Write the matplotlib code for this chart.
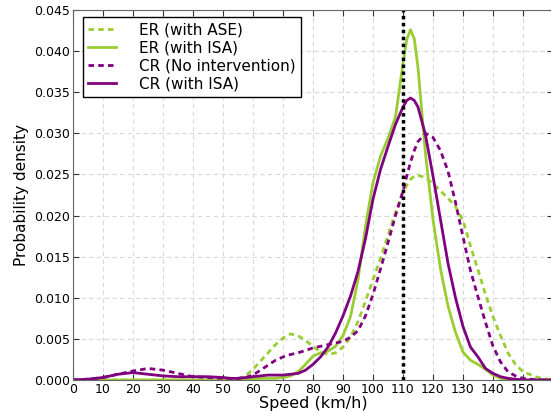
import matplotlib
matplotlib.use("Agg")
import matplotlib.pyplot as plt

# speed grid (km/h) and densities
speed = [0, 5, 10, 15, 20, 25, 30, 35, 40, 45, 50,
         52.5, 55, 57.5, 60, 62.5, 65, 67.5, 70, 72.5, 75, 77.5, 80,
         82.5, 85, 87.5, 90, 92.5, 95, 97.5, 100, 102.5, 105, 107.5, 110,
         111.25, 112.5, 113.75,
         115, 117.5, 120, 122.5, 125, 127.5, 130, 132.5, 135, 137.5, 140, 142.5, 145, 147.5, 150,
         155, 160]

er_ase = [0, 0, 0, 0, 0, 0, 0, 0, 0, 0, 0,
          0, 0.0001, 0.0005, 0.0013, 0.0023, 0.0033, 0.0043, 0.0051, 0.0056, 0.0054, 0.0048, 0.0041,
          0.0034, 0.0031, 0.0033, 0.0040, 0.0052, 0.0071, 0.0096, 0.0122, 0.0148, 0.0176, 0.0204, 0.0228,
          0.0237, 0.0244, 0.0248,
          0.0249, 0.0246, 0.0239, 0.0230, 0.0221, 0.0211, 0.0194, 0.0163, 0.0134, 0.0104, 0.0077, 0.0054,
          0.0033, 0.0019, 0.0010,
          0.0003, 0]

er_isa = [0, 0, 0, 0, 0, 0, 0, 0, 0, 0, 0,
          0, 0, 0.0001, 0.0001, 0.0002, 0.0002, 0.0002, 0.0003, 0.0005, 0.0010, 0.0019, 0.0029,
          0.0033, 0.0035, 0.0041, 0.0054, 0.0077, 0.0122, 0.0187, 0.0240, 0.0272, 0.0294, 0.0320, 0.0385,
          0.0414, 0.0426, 0.0415,
          0.0380, 0.0275, 0.0195, 0.0135, 0.0090, 0.0058, 0.0034, 0.0024, 0.0019, 0.0013, 0.0006, 0.0002,
          0.0001, 0, 0,
          0, 0]

cr_none = [0, 0.0001, 0.0003, 0.0007, 0.0011, 0.0014, 0.0012, 0.0008, 0.0004, 0.0003, 0.0002,
           0.0002, 0.0002, 0.0003, 0.0006, 0.0012, 0.0018, 0.0024, 0.0028, 0.0031, 0.0033, 0.0036, 0.0039,
           0.0041, 0.0043, 0.0045, 0.0047, 0.0052, 0.0060, 0.0078, 0.0104, 0.0135, 0.0167, 0.0200, 0.0230,
           0.0248, 0.0265, 0.0279,
           0.0290, 0.0300, 0.0295, 0.0279, 0.0254, 0.0216, 0.0174, 0.0133, 0.0101, 0.0070, 0.0041, 0.0022,
           0.0010, 0.0005, 0.0002,
           0, 0]

cr_isa = [0, 0.0001, 0.0003, 0.0007, 0.0009, 0.0007, 0.0005, 0.0004, 0.0004, 0.0004, 0.0003,
          0.0002, 0.0002, 0.0003, 0.0004, 0.0005, 0.0006, 0.0006, 0.0006, 0.0007, 0.0008, 0.0012, 0.0019,
          0.0028, 0.0040, 0.0057, 0.0078, 0.0102, 0.0132, 0.0172, 0.0220, 0.0256, 0.0284, 0.0311, 0.0332,
          0.0340, 0.0343, 0.0340,
          0.0332, 0.0298, 0.0248, 0.0195, 0.0142, 0.0100, 0.0065, 0.0040, 0.0028, 0.0014, 0.0008, 0.0004,
          0.0002, 0.0001, 0,
          0, 0]

speed_limit = 110

green = '#9acd32'
purple = '#800080'

fig = plt.figure(figsize=(5.51, 4.12), dpi=100)
ax = fig.add_axes([73 / 551, 1 - 380 / 412, 480 / 551, 370 / 412])

ax.plot(speed, er_ase, color=green, lw=2, dashes=(2, 1.5), label='ER (with ASE)')
ax.plot(speed, er_isa, color=green, lw=2, label='ER (with ISA)')
ax.plot(speed, cr_none, color=purple, lw=2, dashes=(2, 1.5), label='CR (No intervention)')
ax.plot(speed, cr_isa, color=purple, lw=2, label='CR (with ISA)')
ax.axvline(speed_limit, color='black', lw=2.5, ls=(0, (1, 1)))

ax.set_xlim(0, 160)
ax.set_ylim(0, 0.045)
ax.set_xticks(range(0, 151, 10))
ax.set_yticks([i * 0.005 for i in range(10)])
ax.set_yticklabels([f'{i * 0.005:.3f}' for i in range(10)])
ax.tick_params(direction='in', top=True, right=True, length=4, pad=2,
               labelsize=9, color='#333333')
ax.grid(True, color='#d9d9d9', ls=(0, (4, 3)), lw=0.8)
ax.set_axisbelow(True)
for s in ax.spines.values():
    s.set_color('#666666')

ax.set_xlabel('Speed (km/h)', fontsize=11.5, labelpad=0)
ax.set_ylabel('Probability density', fontsize=11, labelpad=4)

leg = ax.legend(loc='upper left', bbox_to_anchor=(10 / 480, 1 - 7 / 370), borderaxespad=0,
                fontsize=11, fancybox=False, framealpha=1, edgecolor='black', borderpad=0.35,
                labelspacing=0.2, handlelength=1.8, handletextpad=1.5)
leg.get_frame().set_linewidth(1.0)

fig.savefig('out.png', dpi=100)
